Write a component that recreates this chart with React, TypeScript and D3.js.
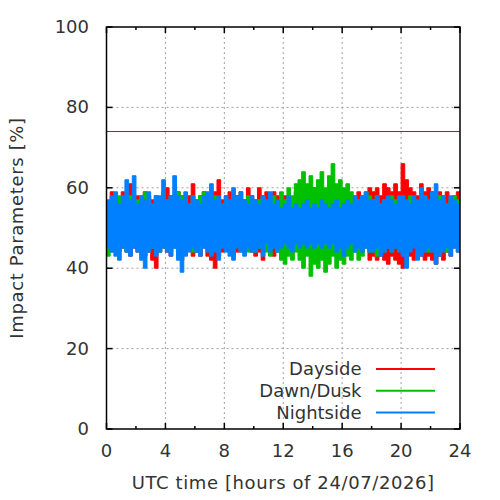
import React, { useEffect, useRef } from "react";
import * as d3 from "d3";

// binned envelopes (max / min of each 15-minute bin, 0 .. 24 h)
const binStep = 0.25;

const nightHi = [
  57, 58, 59, 56, 58, 62, 57, 63,
  56, 58, 57, 59, 56, 58, 58, 62,
  57, 58, 63, 58, 57, 59, 56, 58,
  57, 56, 58, 59, 61, 57, 58, 56,
  58, 57, 60, 58, 59, 57, 56, 58,
  57, 56, 58, 57, 59, 56, 57, 55,
  56, 58, 55, 56, 55, 56, 57, 55,
  56, 55, 57, 56, 55, 56, 57, 55,
  56, 57, 56, 58, 57, 58, 59, 57,
  57, 58, 56, 57, 58, 57, 56, 58,
  58, 57, 56, 58, 57, 60, 58, 57,
  59, 61, 57, 58, 56, 58, 57, 56,
  57,
];
const nightLo = [
  45, 44, 43, 42, 45, 44, 43, 45,
  44, 42, 40, 44, 45, 43, 44, 45,
  44, 43, 45, 42, 39, 43, 44, 45,
  44, 43, 45, 44, 43, 44, 42, 45,
  44, 43, 42, 45, 44, 43, 45, 44,
  44, 45, 43, 46, 44, 45, 44, 45,
  46, 45, 44, 46, 45, 46, 45, 46,
  45, 46, 45, 46, 45, 46, 44, 45,
  43, 45, 46, 44, 45, 44, 45, 44,
  44, 45, 43, 44, 45, 44, 45, 44,
  43, 40, 44, 45, 42, 43, 44, 45,
  44, 41, 43, 44, 45, 43, 45, 44,
  45,
];

const dayHi = [
  56, 59, 58, 57, 59, 58, 61, 57,
  58, 57, 59, 58, 57, 58, 57, 59,
  60, 58, 57, 59, 58, 57, 58, 61,
  57, 58, 59, 57, 58, 59, 62, 57,
  58, 59, 57, 58, 59, 57, 60, 58,
  57, 60, 58, 59, 57, 59, 58, 57,
  58, 56, 57, 59, 58, 57, 59, 60,
  60, 58, 57, 59, 58, 57, 58, 57,
  58, 57, 56, 57, 59, 58, 57, 60,
  59, 60, 58, 61, 60, 59, 61, 59,
  66, 62, 60, 59, 58, 61, 59, 60,
  59, 58, 59, 58, 59, 57, 58, 59,
  57,
];
const dayLo = [
  46, 45, 44, 46, 45, 44, 43, 45,
  44, 45, 43, 44, 42, 40, 44, 45,
  44, 43, 45, 44, 42, 44, 45, 43,
  44, 43, 45, 43, 42, 40, 43, 44,
  45, 44, 43, 44, 45, 44, 45, 44,
  43, 44, 42, 45, 44, 43, 45, 44,
  44, 45, 46, 45, 44, 46, 45, 46,
  45, 46, 44, 45, 46, 45, 44, 45,
  45, 44, 45, 46, 45, 44, 45, 42,
  43, 42, 43, 42, 41, 43, 42, 41,
  40, 41, 43, 42, 44, 43, 42, 43,
  42, 41, 43, 42, 44, 43, 45, 44,
  45,
];

const duskHi = [
  56, 57, 56, 58, 57, 56, 58, 57,
  57, 58, 59, 57, 56, 58, 57, 56,
  57, 58, 56, 59, 58, 57, 56, 58,
  56, 58, 59, 57, 56, 58, 57, 56,
  57, 56, 58, 57, 56, 57, 58, 57,
  56, 57, 58, 56, 57, 58, 56, 59,
  57, 60, 58, 61, 62, 64, 61, 63,
  60, 62, 64, 60, 63, 66, 61, 62,
  60, 61, 59, 58, 57, 58, 59, 58,
  57, 58, 56, 57, 56, 58, 57, 56,
  57, 56, 58, 57, 56, 57, 58, 56,
  57, 56, 58, 57, 56, 57, 58, 57,
  58,
];
const duskLo = [
  43, 44, 45, 44, 45, 44, 45, 46,
  45, 44, 45, 44, 45, 46, 44, 45,
  45, 44, 45, 44, 45, 46, 45, 44,
  44, 45, 46, 45, 44, 45, 44, 46,
  45, 44, 45, 46, 44, 45, 44, 45,
  44, 45, 46, 44, 43, 45, 44, 42,
  41, 43, 42, 44, 42, 40, 43, 38,
  41, 40, 42, 39, 41, 43, 40, 42,
  41, 43, 42, 44, 42, 43, 45, 44,
  44, 43, 45, 44, 45, 44, 45, 46,
  45, 44, 45, 46, 45, 44, 45, 44,
  45, 44, 46, 45, 44, 45, 46, 45,
  44,
];

const seriesNames = ["Dayside", "Dawn/Dusk", "Nightside"];
const seriesColors = ["#ff0000", "#00c000", "#0080ff"];
const xTicks = [0, 4, 8, 12, 16, 20, 24];
const yTicks = [0, 20, 40, 60, 80, 100];
const limitLine = 74;

type Bin = { t: number; hi: number; lo: number };

function toBins(hi: number[], lo: number[]): Bin[] {
  return hi.map((h, i) => ({ t: i * binStep, hi: h, lo: lo[i] }));
}

const App: React.FC = () => {
  const ref = useRef<SVGSVGElement>(null);

  useEffect(() => {
    const svg = d3.select(ref.current);
    svg.selectAll("*").remove();

    const left = 106.5, right = 460, top = 27, bottom = 429;
    const x = d3.scaleLinear().domain([0, 24]).range([left, right]);
    const y = d3.scaleLinear().domain([0, 100]).range([bottom, top]);
    const font = "DejaVu Sans, sans-serif";
    const txt = "#333";

    svg.append("rect").attr("width", 500).attr("height", 500).attr("fill", "#fff");

    svg.append("clipPath").attr("id", "plotclip")
      .append("rect")
      .attr("x", left).attr("y", top)
      .attr("width", right - left).attr("height", bottom - top);

    // grid
    const grid = svg.append("g")
      .attr("stroke", "#a0a0a0")
      .attr("stroke-width", 1)
      .attr("stroke-dasharray", "2,3");
    xTicks.slice(1, -1).forEach((t) => {
      grid.append("line")
        .attr("x1", x(t)).attr("x2", x(t))
        .attr("y1", top).attr("y2", bottom);
    });
    yTicks.slice(1, -1).forEach((t) => {
      grid.append("line")
        .attr("x1", left).attr("x2", right)
        .attr("y1", y(t)).attr("y2", y(t));
    });

    // data: each 15 min bin drawn as a column from min to max
    const area = d3.area<Bin>()
      .x((d) => x(d.t))
      .y0((d) => y(d.lo))
      .y1((d) => y(d.hi))
      .curve(d3.curveStepAfter);
    const data = [toBins(dayHi, dayLo), toBins(duskHi, duskLo), toBins(nightHi, nightLo)];
    const plot = svg.append("g").attr("clip-path", "url(#plotclip)");
    data.forEach((bins, i) => {
      plot.append("path")
        .attr("d", area(bins)!)
        .attr("fill", seriesColors[i])
        .attr("stroke", seriesColors[i])
        .attr("stroke-width", 1);
    });

    plot.append("line")
      .attr("x1", left).attr("x2", right)
      .attr("y1", y(limitLine)).attr("y2", y(limitLine))
      .attr("stroke", "#9400d3")
      .attr("stroke-width", 1);

    // frame and ticks
    const axis = svg.append("g").attr("stroke", "#000").attr("stroke-width", 1.5);
    axis.append("rect")
      .attr("x", left).attr("y", top)
      .attr("width", right - left).attr("height", bottom - top)
      .attr("fill", "none");
    d3.range(0, 25, 2).forEach((t) => {
      const len = t % 4 === 0 ? 6 : 3;
      axis.append("line").attr("x1", x(t)).attr("x2", x(t)).attr("y1", bottom).attr("y2", bottom - len);
      axis.append("line").attr("x1", x(t)).attr("x2", x(t)).attr("y1", top).attr("y2", top + len);
    });
    yTicks.forEach((t) => {
      axis.append("line").attr("x1", left).attr("x2", left + 6).attr("y1", y(t)).attr("y2", y(t));
      axis.append("line").attr("x1", right).attr("x2", right - 6).attr("y1", y(t)).attr("y2", y(t));
    });

    const labels = svg.append("g")
      .attr("font-family", font)
      .attr("font-size", 18)
      .attr("fill", txt);
    xTicks.forEach((t) => {
      labels.append("text")
        .attr("x", x(t)).attr("y", 457)
        .attr("text-anchor", "middle")
        .text(t);
    });
    yTicks.forEach((t) => {
      labels.append("text")
        .attr("x", 89).attr("y", y(t) + 6)
        .attr("text-anchor", "end")
        .text(t);
    });

    labels.append("text")
      .attr("x", (left + right) / 2).attr("y", 489)
      .attr("text-anchor", "middle")
      .attr("letter-spacing", 0.6)
      .text("UTC time [hours of 24/07/2026]");
    labels.append("text")
      .attr("transform", `translate(23,${(top + bottom) / 2}) rotate(-90)`)
      .attr("text-anchor", "middle")
      .attr("letter-spacing", 0.65)
      .text("Impact Parameters [%]");

    // legend
    seriesNames.forEach((name, i) => {
      const ly = 369 + i * 21.8;
      labels.append("text")
        .attr("x", 361.5).attr("y", ly + 6)
        .attr("text-anchor", "end")
        .text(name);
      svg.append("line")
        .attr("x1", 376).attr("x2", 435)
        .attr("y1", ly).attr("y2", ly)
        .attr("stroke", seriesColors[i])
        .attr("stroke-width", 2);
    });
  }, []);

  return (
    <svg
      ref={ref}
      width={500}
      height={500}
      style={{ position: "absolute", left: 0, top: 0 }}
    />
  );
};

export default App;
